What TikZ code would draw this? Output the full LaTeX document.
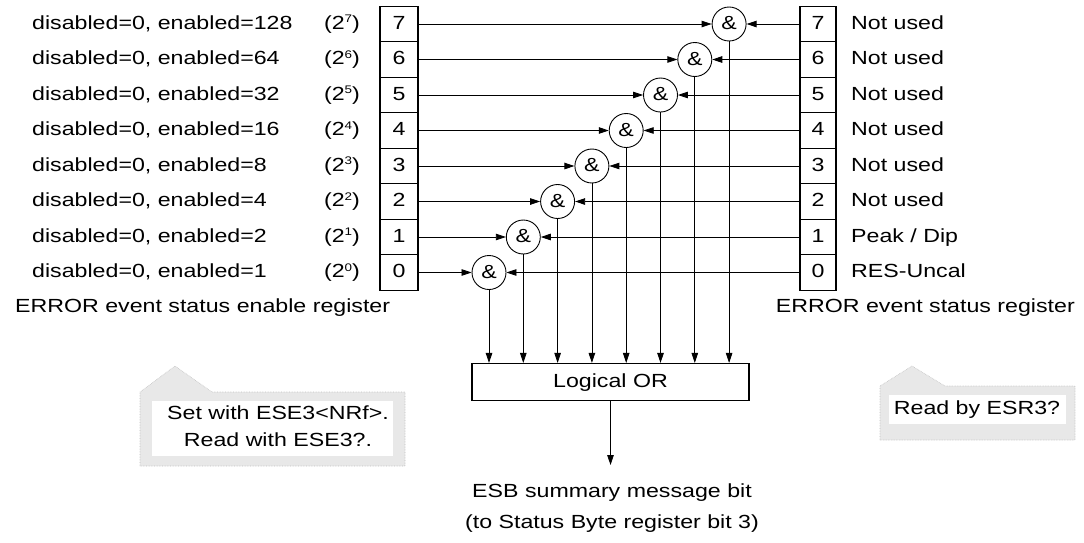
\documentclass[tikz,border=0pt]{standalone}
\usepackage{fontspec}
\setmainfont{Liberation Sans}[FakeStretch=1.22]
\usetikzlibrary{arrows.meta}
\newcommand{\supdig}[1]{\raisebox{6.5pt}{\fontsize{11}{11}\selectfont #1}}
\begin{document}
\begin{tikzpicture}[x=1pt,y=-1pt,
  every node/.style={font=\fontsize{19}{22}\selectfont, inner sep=0pt, text height=13.5pt, text depth=3.5pt},
  regbox/.style={draw, line width=1.1pt, minimum width=38pt, minimum height=35.5pt},
  gate/.style={draw, circle, line width=0.9pt, minimum size=34pt, text height=12pt, text depth=1pt},
  wire/.style={line width=0.8pt, -{Triangle[length=10pt,width=6.5pt]}},
  orbox/.style={draw, line width=1.1pt, minimum width=277pt, minimum height=37pt},
  callout/.style={fill=gray!18, draw=gray!50, densely dotted, line width=0.6pt},
  calloutin/.style={fill=white}]
\path[use as bounding box] (0,0) rectangle (1084,542);

\node[orbox] (OR) at (610.5,382) {Logical OR};

\foreach \k in {0,...,7}{
  \pgfmathsetmacro\yy{24+35.5*(7-\k)}
  \pgfmathtruncatemacro\ev{2^\k}
  \node[regbox] (L\k) at (399,\yy) {\k};
  \node[regbox, minimum width=36pt] (R\k) at (818,\yy) {\k};
  \node[gate] (G\k) at ({489+34.3*\k},\yy) {\&};
  \node[anchor=west] (T\k) at (32,\yy) {disabled=0, enabled=\ev};
  \node (P\k) at (342,\yy) {(2\supdig{\k})};
  \node[anchor=west] (N\k) at (851,\yy) {\ifcase\k RES-Uncal\or Peak / Dip\else Not used\fi};
  \draw[wire] (L\k.east) -- (G\k.west);
  \draw[wire] (R\k.west) -- (G\k.east);
  \draw[wire] (G\k.south) -- (G\k.south |- OR.north);
}

\node[anchor=west] (EL) at (15,307) {ERROR event status enable register};
\node[anchor=east] (ER) at (1075,307) {ERROR event status register};

\coordinate (ESBtip) at (610.5,465);
\draw[wire] (OR.south) -- (ESBtip);
\node (ESB) at (612,492) {ESB summary message bit};
\node (TO) at (612,523) {(to Status Byte register bit 3)};

% left callout
\draw[callout] (140,466) -- (140,392) -- (175,366) -- (212,392) -- (405,392) -- (405,466) -- cycle;
\fill[calloutin] (152,401) rectangle (393,456);
\node (C1) at (278,414) {Set with ESE3<NRf>.};
\node (C2) at (278,441) {Read with ESE3?.};

% right callout
\draw[callout] (880,440) -- (880,386) -- (912,366) -- (945,386) -- (1075,386) -- (1075,440) -- cycle;
\fill[calloutin] (889,395) rectangle (1066,424);
\node (C3) at (977,409) {Read by ESR3?};
\end{tikzpicture}
\end{document}
